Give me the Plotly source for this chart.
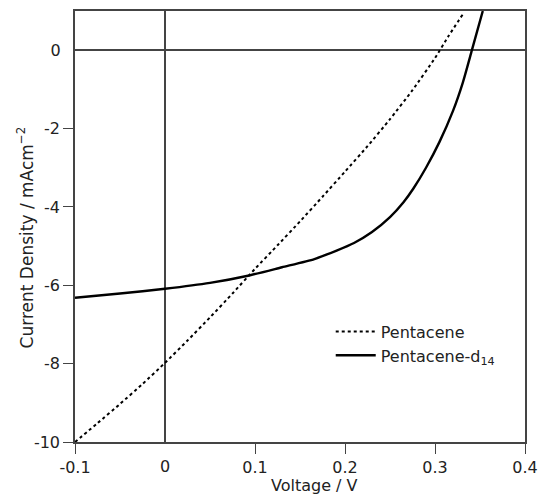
import plotly.graph_objects as go

# ---- data ----
pent_v = [-0.1, -0.075, -0.05, -0.025, 0.0, 0.025, 0.05, 0.075, 0.1, 0.125,
          0.15, 0.175, 0.2, 0.225, 0.25, 0.275, 0.3, 0.315, 0.331]
pent_j = [-10.0, -9.52, -9.03, -8.52, -7.98, -7.41, -6.82, -6.21, -5.58, -4.98,
          -4.37, -3.74, -3.10, -2.45, -1.76, -1.02, -0.20, 0.36, 0.92]

d14_v = [-0.1, -0.05, 0.0, 0.05, 0.0935, 0.13, 0.166, 0.19, 0.21, 0.23,
         0.25, 0.265, 0.276, 0.29, 0.305, 0.32, 0.331, 0.341, 0.3531]
d14_j = [-6.32, -6.21, -6.09, -5.94, -5.75, -5.54, -5.33, -5.12, -4.92, -4.64,
         -4.26, -3.88, -3.53, -3.00, -2.34, -1.55, -0.82, 0.0, 1.0]

x_ticks = [-0.1, 0.1, 0.2, 0.3, 0.4]
x_tick_text = ["-0.1", "0.1", "0.2", "0.3", "0.4"]
y_ticks = [-10, -8, -6, -4, -2]
y_tick_text = ["-10", "-8", "-6", "-4", "-2"]
zero_tick = [0]
zero_text = ["0"]

x_range = [-0.1, 0.4]
y_range = [-10, 1]

W, H = 547, 503
ML, MR, MT, MB = 75, 18, 9, 61
PW, PH = W - ML - MR, H - MT - MB

def px_x(px):
    return (px - ML) / PW

def px_y(py):
    return (H - MB - py) / PH

FONT = "DejaVu Sans, Verdana, sans-serif"
AX = "#444444"
TXT = "#222222"
FS = 16

fig = go.Figure()
fig.add_trace(go.Scatter(x=pent_v, y=pent_j, mode="lines", name="Pentacene",
                         legendgroup="a",
                         line=dict(color="black", width=2, dash="dot",
                                   shape="spline", smoothing=0.5)))
fig.add_trace(go.Scatter(x=d14_v, y=d14_j, mode="lines", name="Pentacene-d<sub>14</sub>",
                         legendgroup="b",
                         line=dict(color="black", width=2.4,
                                   shape="spline", smoothing=0.6)))

common = dict(showgrid=False, ticks="outside", ticklen=10, tickwidth=1.3,
              tickcolor=AX, tickfont=dict(family=FONT, size=FS, color=TXT))

fig.update_layout(
    width=W, height=H,
    margin=dict(l=ML, r=MR, t=MT, b=MB),
    paper_bgcolor="white", plot_bgcolor="white",
    font=dict(family=FONT, size=FS, color=TXT),
    xaxis=dict(range=x_range, tickvals=x_ticks, ticktext=x_tick_text,
               showline=True, mirror=True, linecolor=AX, linewidth=1.5,
               zeroline=True, zerolinecolor=AX, zerolinewidth=1.5, **common),
    yaxis=dict(range=y_range, tickvals=y_ticks, ticktext=y_tick_text,
               showline=True, mirror=True, linecolor=AX, linewidth=1.5,
               zeroline=True, zerolinecolor=AX, zerolinewidth=1.5, **common),
    xaxis2=dict(range=x_range, overlaying="x", anchor="y", side="bottom",
                tickvals=zero_tick, ticktext=zero_text, showline=False,
                zeroline=False, showgrid=False, ticks="outside", ticklen=10,
                tickcolor="rgba(0,0,0,0)",
                tickfont=dict(family=FONT, size=FS, color=TXT)),
    yaxis2=dict(range=y_range, overlaying="y", anchor="x", side="left",
                tickvals=zero_tick, ticktext=zero_text, showline=False,
                zeroline=False, showgrid=False, ticks="outside", ticklen=10,
                tickcolor="rgba(0,0,0,0)",
                tickfont=dict(family=FONT, size=FS, color=TXT)),
    legend=dict(x=px_x(333), y=px_y(314), xanchor="left", yanchor="top",
                bgcolor="rgba(0,0,0,0)", font=dict(family=FONT, size=FS, color=TXT),
                traceorder="grouped", tracegroupgap=0, itemwidth=40),
    showlegend=True,
)

# invisible trace that activates the secondary (label-only) axes
fig.add_trace(go.Scatter(x=[None], y=[None], xaxis="x2", yaxis="y2",
                         showlegend=False, hoverinfo="skip"))

fig.add_annotation(text="Voltage / V", xref="paper", yref="paper",
                   x=px_x(317), y=px_y(486), xanchor="center", yanchor="middle",
                   showarrow=False, font=dict(family=FONT, size=FS, color=TXT))
fig.add_annotation(text="Current Density / mAcm<sup>−2</sup>", xref="paper", yref="paper",
                   x=px_x(25), y=px_y(236), xanchor="center", yanchor="middle",
                   textangle=-90, showarrow=False,
                   font=dict(family=FONT, size=17, color=TXT))

fig.write_html("out.html", config={"displayModeBar": False},
               post_script="document.body.style.margin='0';document.body.style.overflow='hidden';")
